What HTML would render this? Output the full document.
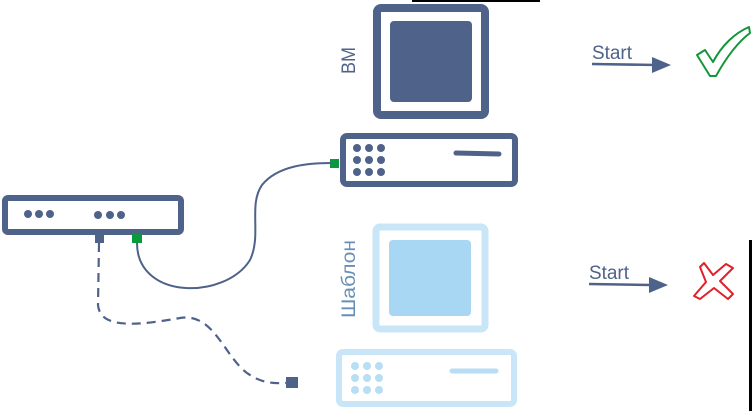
<!DOCTYPE html>
<html><head><style>html,body{margin:0;padding:0;background:#fff}svg{display:block}</style></head>
<body>
<svg width="752" height="411" viewBox="0 0 752 411" xmlns="http://www.w3.org/2000/svg" font-family="Liberation Sans, sans-serif">
<rect x="412" y="0" width="128" height="2" fill="#000"/>
<rect x="749" y="240" width="3" height="171" fill="#000"/>
<!-- VM monitor -->
<rect x="377" y="8" width="108" height="107" rx="4" fill="#fff" stroke="#4f628a" stroke-width="8"/>
<rect x="390" y="21" width="82" height="81" rx="4" fill="#4f628a"/>
<text transform="translate(355,74) rotate(-90)" font-size="19" fill="#4f628a" textLength="27" lengthAdjust="spacingAndGlyphs">ВМ</text>
<!-- VM tower -->
<rect x="343" y="136" width="172" height="48" rx="4" fill="#fff" stroke="#4f628a" stroke-width="6"/>
<g fill="#4f628a"><circle cx="357" cy="148" r="4"/><circle cx="369" cy="148" r="4"/><circle cx="381" cy="148" r="4"/><circle cx="357" cy="160" r="4"/><circle cx="369" cy="160" r="4"/><circle cx="381" cy="160" r="4"/><circle cx="357" cy="172" r="4"/><circle cx="369" cy="172" r="4"/><circle cx="381" cy="172" r="4"/></g>
<line x1="456" y1="153" x2="499" y2="154" stroke="#4f628a" stroke-width="5" stroke-linecap="round"/>
<rect x="330" y="159" width="9" height="9" fill="#0a9a3c"/>
<!-- template monitor -->
<rect x="376" y="227" width="109" height="102" rx="4" fill="#fff" stroke="#c8e6f8" stroke-width="7"/>
<rect x="389" y="240" width="82" height="76" rx="4" fill="#a8d7f3"/>
<text transform="translate(355,318) rotate(-90)" font-size="19" fill="#6a8fb5" textLength="78" lengthAdjust="spacingAndGlyphs">Шаблон</text>
<!-- template tower -->
<rect x="339" y="352" width="175" height="52" rx="4" fill="#fff" stroke="#c8e6f8" stroke-width="6"/>
<g fill="#b8def5"><circle cx="355" cy="366" r="4"/><circle cx="367" cy="366" r="4"/><circle cx="379" cy="366" r="4"/><circle cx="355" cy="378" r="4"/><circle cx="367" cy="378" r="4"/><circle cx="379" cy="378" r="4"/><circle cx="355" cy="390" r="4"/><circle cx="367" cy="390" r="4"/><circle cx="379" cy="390" r="4"/></g>
<line x1="452" y1="371" x2="496" y2="371" stroke="#b8def5" stroke-width="5" stroke-linecap="round"/>
<!-- router -->
<rect x="5" y="198" width="176" height="34" rx="3" fill="#fff" stroke="#4f628a" stroke-width="6"/>
<g fill="#4f628a"><circle cx="28" cy="214" r="4"/><circle cx="39" cy="214" r="4"/><circle cx="50" cy="214" r="4"/><circle cx="98" cy="215" r="4"/><circle cx="110" cy="215" r="4"/><circle cx="121" cy="215" r="4"/></g>
<rect x="95" y="233" width="9" height="10" fill="#4f628a"/>
<rect x="132" y="234" width="10" height="9" fill="#0a9a3c"/>
<!-- cables -->
<path d="M137,243 C137,300 225,300 250,260 C262,235 248,205 262,185 C278,165 310,163 331,163" fill="none" stroke="#4f628a" stroke-width="2"/>
<path d="M99,243 L98,305 C100,330 140,325 180,318 C215,312 225,360 250,375 C265,385 280,383 287,383" fill="none" stroke="#4f628a" stroke-width="2.2" stroke-dasharray="9,6"/>
<rect x="286" y="377" width="12" height="11" fill="#4f628a"/>
<!-- start arrows -->
<text x="592" y="59" font-size="19" fill="#4f628a" textLength="40" lengthAdjust="spacingAndGlyphs">Start</text>
<line x1="592" y1="64" x2="656" y2="65" stroke="#4f628a" stroke-width="2.5"/>
<polygon points="652,57 671,65 652,73" fill="#4f628a"/>
<text x="589" y="279" font-size="19" fill="#4f628a" textLength="40" lengthAdjust="spacingAndGlyphs">Start</text>
<line x1="589" y1="284" x2="652" y2="285" stroke="#4f628a" stroke-width="2.5"/>
<polygon points="649,277 668,285 649,293" fill="#4f628a"/>
<!-- check -->
<path d="M697,55 L705,50 L713,62 C722,45 735,33 749,27 L750,33 C738,42 726,58 716,76 L710,76 Z" fill="#fff" stroke="#13963a" stroke-width="2" stroke-linejoin="round"/>
<!-- cross -->
<path d="M700,267 L704,263 L713,275 L726,264 L733,268 L720,281 L733,294 L728,299 L714,288 L700,299 L694,296 L706,282 Z" fill="#fff" stroke="#e0202a" stroke-width="2" stroke-linejoin="round"/>
</svg>
</body></html>
